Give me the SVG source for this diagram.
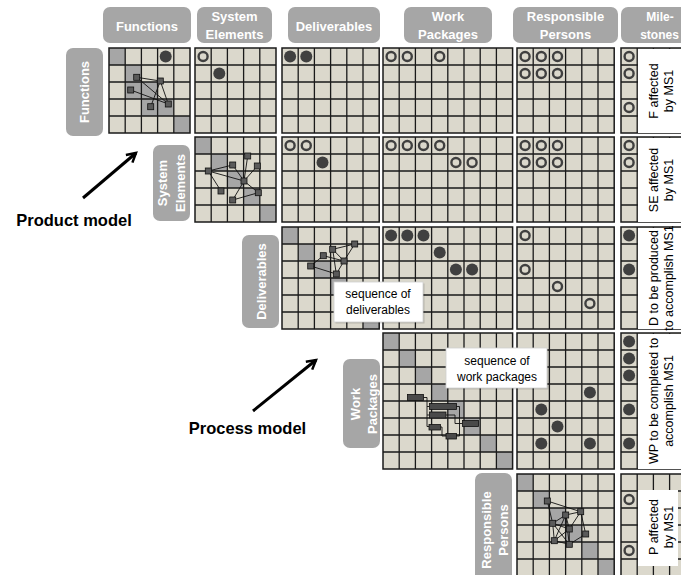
<svg xmlns="http://www.w3.org/2000/svg" width="681" height="575" viewBox="0 0 681 575">
<style>
.c{fill:#dbd8cc}
.g{fill:#a6a6a6}
.l{fill:none;stroke:#1a1a1a;stroke-width:1.3}
.b{fill:none;stroke:#1a1a1a;stroke-width:1.5}
.f{fill:#404040}
.h{fill:none;stroke:#404040;stroke-width:2.4}
.nd{fill:#5a5a5a;stroke:#111;stroke-width:0.8}
.nl{fill:none;stroke:#111;stroke-width:0.9}
.bar{fill:#4a4a4a;stroke:#111;stroke-width:0.8}
.hd{fill:#a6a6a6}
.ht{font-family:"Liberation Sans",Arial,sans-serif;font-weight:bold;font-size:13px;fill:#fff;text-anchor:middle}
.mt{font-family:"Liberation Sans",Arial,sans-serif;font-size:12.5px;fill:#000;text-anchor:middle}
.st{font-family:"Liberation Sans",Arial,sans-serif;font-size:12px;fill:#000;text-anchor:middle}
.lb{font-family:"Liberation Sans",Arial,sans-serif;font-weight:bold;font-size:16.5px;fill:#000;text-anchor:middle}
.wb{fill:#fff}
.arr{fill:none;stroke:#000;stroke-width:3}
</style>
<defs>
<marker id="ah" viewBox="0 0 12 12" refX="10" refY="6" markerWidth="4.5" markerHeight="4.5" orient="auto">
<path d="M2 1.5L10 6L2 10.5" fill="none" stroke="#000" stroke-width="2.2"/>
</marker>
</defs>
<rect x="0" y="0" width="681" height="575" fill="#fff"/>

<!-- Functions row -->
<g id="blk-f-f">
<rect class="c" x="109" y="48" width="81" height="85"/>
<rect class="g" x="109" y="48" width="16.2" height="17"/>
<rect class="g" x="125.2" y="65" width="16.2" height="17"/>
<rect class="g" x="125.2" y="82" width="16.2" height="17"/>
<rect class="g" x="141.4" y="82" width="16.2" height="17"/>
<rect class="g" x="141.4" y="99" width="16.2" height="17"/>
<rect class="g" x="157.6" y="99" width="16.2" height="17"/>
<rect class="g" x="173.8" y="116" width="16.2" height="17"/>
<path class="l" d="M125.2 48V133M141.4 48V133M157.6 48V133M173.8 48V133M109 65H190M109 82H190M109 99H190M109 116H190"/>
<rect class="b" x="109" y="48" width="81" height="85"/>
<path class="nl" d="M136.7 77.3L160.3 81M136.7 77.3L168.3 104M130.7 90L168.3 104M160.3 81L150.7 106.7M160.3 81L168.3 104"/>
<rect class="nd" x="133.7" y="74.3" width="6" height="6"/>
<rect class="nd" x="157.3" y="78" width="6" height="6"/>
<rect class="nd" x="127.7" y="87" width="6" height="6"/>
<rect class="nd" x="147.7" y="103.7" width="6" height="6"/>
<rect class="nd" x="165.3" y="101" width="6" height="6"/>
<circle class="f" cx="165.7" cy="56.5" r="6"/>
</g>
<g id="blk-f-se">
<rect class="c" x="195" y="48" width="81" height="85"/>
<path class="l" d="M211.2 48V133M227.4 48V133M243.6 48V133M259.8 48V133M195 65H276M195 82H276M195 99H276M195 116H276"/>
<rect class="b" x="195" y="48" width="81" height="85"/>
<circle class="h" cx="203.1" cy="56.5" r="4.5"/>
<circle class="f" cx="219.3" cy="73.5" r="6"/>
</g>
<g id="blk-f-d">
<rect class="c" x="282" y="48" width="97.2" height="85"/>
<path class="l" d="M298.2 48V133M314.4 48V133M330.6 48V133M346.8 48V133M363 48V133M282 65H379.2M282 82H379.2M282 99H379.2M282 116H379.2"/>
<rect class="b" x="282" y="48" width="97.2" height="85"/>
<circle class="f" cx="290.1" cy="56.5" r="6"/>
<circle class="f" cx="306.3" cy="56.5" r="6"/>
</g>
<g id="blk-f-wp">
<rect class="c" x="383" y="48" width="129.6" height="85"/>
<path class="l" d="M399.2 48V133M415.4 48V133M431.6 48V133M447.8 48V133M464 48V133M480.2 48V133M496.4 48V133M383 65H512.6M383 82H512.6M383 99H512.6M383 116H512.6"/>
<rect class="b" x="383" y="48" width="129.6" height="85"/>
<circle class="h" cx="391.1" cy="56.5" r="4.5"/>
<circle class="h" cx="407.3" cy="56.5" r="4.5"/>
<circle class="h" cx="439.7" cy="56.5" r="4.5"/>
</g>
<g id="blk-f-rp">
<rect class="c" x="517" y="48" width="97.2" height="85"/>
<path class="l" d="M533.2 48V133M549.4 48V133M565.6 48V133M581.8 48V133M598 48V133M517 65H614.2M517 82H614.2M517 99H614.2M517 116H614.2"/>
<rect class="b" x="517" y="48" width="97.2" height="85"/>
<circle class="h" cx="525.1" cy="56.5" r="4.5"/>
<circle class="h" cx="541.3" cy="56.5" r="4.5"/>
<circle class="h" cx="557.5" cy="56.5" r="4.5"/>
<circle class="h" cx="525.1" cy="73.5" r="4.5"/>
<circle class="h" cx="541.3" cy="73.5" r="4.5"/>
<circle class="h" cx="557.5" cy="73.5" r="4.5"/>
</g>
<g id="blk-f-ms">
<rect class="c" x="621" y="48" width="64.8" height="85"/>
<path class="l" d="M637.2 48V133M653.4 48V133M669.6 48V133M621 65H685.8M621 82H685.8M621 99H685.8M621 116H685.8"/>
<rect class="b" x="621" y="48" width="64.8" height="85"/>
<circle class="h" cx="629.1" cy="56.5" r="4.5"/>
<circle class="h" cx="629.1" cy="73.5" r="4.5"/>
<circle class="h" cx="629.1" cy="107.5" r="4.5"/>
<rect class="wb" x="638" y="49" width="43" height="84"/>
<text class="mt" transform="translate(658,91) rotate(-90)"><tspan x="0" y="0">F affected</tspan><tspan x="0" y="15">by MS1</tspan></text>
</g>

<!-- System Elements row -->
<g id="blk-se-se">
<rect class="c" x="195" y="137" width="81" height="85"/>
<rect class="g" x="195" y="137" width="16.2" height="17"/>
<rect class="g" x="211.2" y="154" width="16.2" height="17"/>
<rect class="g" x="227.4" y="171" width="16.2" height="17"/>
<rect class="g" x="243.6" y="188" width="16.2" height="17"/>
<rect class="g" x="259.8" y="205" width="16.2" height="17"/>
<path class="l" d="M211.2 137V222M227.4 137V222M243.6 137V222M259.8 137V222M195 154H276M195 171H276M195 188H276M195 205H276"/>
<rect class="b" x="195" y="137" width="81" height="85"/>
<path class="nl" d="M208.3 171L232.7 165M208.3 171L244 181M208.3 171L221 191M232.7 165L244 181M247.7 156L244 181M257.3 166L244 181M244 181L258.3 192.7M244 181L232.7 200M258.3 192.7L232.7 200"/>
<rect class="nd" x="205.3" y="168" width="6" height="6"/>
<rect class="nd" x="229.7" y="162" width="6" height="6"/>
<rect class="nd" x="244.7" y="153" width="6" height="6"/>
<rect class="nd" x="254.3" y="163" width="6" height="6"/>
<rect class="nd" x="241" y="178" width="6" height="6"/>
<rect class="nd" x="218" y="188" width="6" height="6"/>
<rect class="nd" x="255.3" y="189.7" width="6" height="6"/>
<rect class="nd" x="229.7" y="197" width="6" height="6"/>
</g>
<g id="blk-se-d">
<rect class="c" x="282" y="137" width="97.2" height="85"/>
<path class="l" d="M298.2 137V222M314.4 137V222M330.6 137V222M346.8 137V222M363 137V222M282 154H379.2M282 171H379.2M282 188H379.2M282 205H379.2"/>
<rect class="b" x="282" y="137" width="97.2" height="85"/>
<circle class="h" cx="290.1" cy="145.5" r="4.5"/>
<circle class="h" cx="306.3" cy="145.5" r="4.5"/>
<circle class="f" cx="322.5" cy="162.5" r="6"/>
</g>
<g id="blk-se-wp">
<rect class="c" x="383" y="137" width="129.6" height="85"/>
<path class="l" d="M399.2 137V222M415.4 137V222M431.6 137V222M447.8 137V222M464 137V222M480.2 137V222M496.4 137V222M383 154H512.6M383 171H512.6M383 188H512.6M383 205H512.6"/>
<rect class="b" x="383" y="137" width="129.6" height="85"/>
<circle class="h" cx="391.1" cy="145.5" r="4.5"/>
<circle class="h" cx="407.3" cy="145.5" r="4.5"/>
<circle class="h" cx="423.5" cy="145.5" r="4.5"/>
<circle class="h" cx="439.7" cy="145.5" r="4.5"/>
<circle class="h" cx="455.9" cy="162.5" r="4.5"/>
<circle class="h" cx="472.1" cy="162.5" r="4.5"/>
</g>
<g id="blk-se-rp">
<rect class="c" x="517" y="137" width="97.2" height="85"/>
<path class="l" d="M533.2 137V222M549.4 137V222M565.6 137V222M581.8 137V222M598 137V222M517 154H614.2M517 171H614.2M517 188H614.2M517 205H614.2"/>
<rect class="b" x="517" y="137" width="97.2" height="85"/>
<circle class="h" cx="525.1" cy="145.5" r="4.5"/>
<circle class="h" cx="541.3" cy="145.5" r="4.5"/>
<circle class="h" cx="557.5" cy="145.5" r="4.5"/>
<circle class="h" cx="525.1" cy="162.5" r="4.5"/>
<circle class="h" cx="541.3" cy="162.5" r="4.5"/>
<circle class="h" cx="557.5" cy="162.5" r="4.5"/>
</g>
<g id="blk-se-ms">
<rect class="c" x="621" y="137" width="64.8" height="85"/>
<path class="l" d="M637.2 137V222M653.4 137V222M669.6 137V222M621 154H685.8M621 171H685.8M621 188H685.8M621 205H685.8"/>
<rect class="b" x="621" y="137" width="64.8" height="85"/>
<circle class="h" cx="629.1" cy="145.5" r="4.5"/>
<circle class="h" cx="629.1" cy="162.5" r="4.5"/>
<rect class="wb" x="638" y="138" width="43" height="84"/>
<text class="mt" transform="translate(658,180) rotate(-90)"><tspan x="0" y="0">SE affected</tspan><tspan x="0" y="15">by MS1</tspan></text>
</g>

<!-- Deliverables row -->
<g id="blk-d-d">
<rect class="c" x="282" y="227" width="97.2" height="102"/>
<rect class="g" x="282" y="227" width="16.2" height="17"/>
<rect class="g" x="298.2" y="244" width="16.2" height="17"/>
<rect class="g" x="314.4" y="261" width="16.2" height="17"/>
<rect class="g" x="330.6" y="278" width="16.2" height="17"/>
<rect class="g" x="346.8" y="295" width="16.2" height="17"/>
<rect class="g" x="363" y="312" width="16.2" height="17"/>
<path class="l" d="M298.2 227V329M314.4 227V329M330.6 227V329M346.8 227V329M363 227V329M282 244H379.2M282 261H379.2M282 278H379.2M282 295H379.2M282 312H379.2"/>
<rect class="b" x="282" y="227" width="97.2" height="102"/>
<path class="nl" d="M332.7 249.3L354.7 244M354.7 244L344 261M332.7 249.3L344 261M323.3 255.7L344 261M310.7 266L323.3 255.7M310.7 266L336.3 274M344 261L336.3 274M332.7 249.3L336.3 274"/>
<rect class="nd" x="320.3" y="252.7" width="6" height="6"/>
<rect class="nd" x="329.7" y="246.3" width="6" height="6"/>
<rect class="nd" x="351.7" y="241" width="6" height="6"/>
<rect class="nd" x="341" y="258" width="6" height="6"/>
<rect class="nd" x="307.7" y="263" width="6" height="6"/>
<rect class="nd" x="333.3" y="271" width="6" height="6"/>
</g>
<g id="blk-d-wp">
<rect class="c" x="383" y="227" width="129.6" height="102"/>
<path class="l" d="M399.2 227V329M415.4 227V329M431.6 227V329M447.8 227V329M464 227V329M480.2 227V329M496.4 227V329M383 244H512.6M383 261H512.6M383 278H512.6M383 295H512.6M383 312H512.6"/>
<rect class="b" x="383" y="227" width="129.6" height="102"/>
<circle class="f" cx="391.1" cy="235.5" r="6"/>
<circle class="f" cx="407.3" cy="235.5" r="6"/>
<circle class="f" cx="423.5" cy="235.5" r="6"/>
<circle class="f" cx="439.7" cy="252.5" r="6"/>
<circle class="f" cx="455.9" cy="269.5" r="6"/>
<circle class="f" cx="472.1" cy="269.5" r="6"/>
</g>
<g id="blk-d-rp">
<rect class="c" x="517" y="227" width="97.2" height="102"/>
<path class="l" d="M533.2 227V329M549.4 227V329M565.6 227V329M581.8 227V329M598 227V329M517 244H614.2M517 261H614.2M517 278H614.2M517 295H614.2M517 312H614.2"/>
<rect class="b" x="517" y="227" width="97.2" height="102"/>
<circle class="h" cx="525.1" cy="235.5" r="4.5"/>
<circle class="h" cx="525.1" cy="269.5" r="4.5"/>
<circle class="h" cx="557.5" cy="286.5" r="4.5"/>
<circle class="h" cx="589.9" cy="303.5" r="4.5"/>
</g>
<g id="blk-d-ms">
<rect class="c" x="621" y="227" width="64.8" height="102"/>
<path class="l" d="M637.2 227V329M653.4 227V329M669.6 227V329M621 244H685.8M621 261H685.8M621 278H685.8M621 295H685.8M621 312H685.8"/>
<rect class="b" x="621" y="227" width="64.8" height="102"/>
<circle class="f" cx="629.1" cy="235.5" r="6"/>
<circle class="f" cx="629.1" cy="269.5" r="6"/>
<rect class="wb" x="638" y="228" width="43" height="101"/>
<text class="mt" transform="translate(658,278) rotate(-90)"><tspan x="0" y="0">D to be produced</tspan><tspan x="0" y="15">to accomplish MS1</tspan></text>
</g>
<g id="seq-deliverables">
<rect x="335.5" y="283.5" width="89" height="40" fill="#000" opacity="0.15"/>
<rect x="334" y="282" width="89" height="40" fill="#fff" stroke="#d0d0d0" stroke-width="0.8"/>
<text class="st" x="378" y="298">sequence of</text>
<text class="st" x="378" y="314">deliverables</text>
</g>

<!-- Work Packages row -->
<g id="blk-wp-wp">
<rect class="c" x="383" y="333" width="129.6" height="136"/>
<rect class="g" x="383" y="333" width="16.2" height="17"/>
<rect class="g" x="399.2" y="350" width="16.2" height="17"/>
<rect class="g" x="415.4" y="367" width="16.2" height="17"/>
<rect class="g" x="431.6" y="384" width="16.2" height="17"/>
<rect class="g" x="447.8" y="401" width="16.2" height="17"/>
<rect class="g" x="464" y="418" width="16.2" height="17"/>
<rect class="g" x="480.2" y="435" width="16.2" height="17"/>
<rect class="g" x="496.4" y="452" width="16.2" height="17"/>
<path class="l" d="M399.2 333V469M415.4 333V469M431.6 333V469M447.8 333V469M464 333V469M480.2 333V469M496.4 333V469M383 350H512.6M383 367H512.6M383 384H512.6M383 401H512.6M383 418H512.6M383 435H512.6M383 452H512.6"/>
<rect class="b" x="383" y="333" width="129.6" height="136"/>
<path class="nl" d="M423.5 397.5H427V426.5H429M427 406.5H429.5M427 415H429.5M456.5 406.5H459.5V436H456.5M446 415H455V423.5H462.5M440.5 427H442V436H446"/>
<rect class="bar" x="407.5" y="394.5" width="16" height="6"/>
<rect class="bar" x="429.5" y="403.5" width="27" height="6"/>
<rect class="bar" x="429.5" y="412" width="16.5" height="6"/>
<rect class="bar" x="429" y="424.5" width="11.5" height="5.5"/>
<rect class="bar" x="446" y="433.5" width="10.5" height="5.5"/>
<rect class="bar" x="462.5" y="420.5" width="16" height="6"/>
</g>
<g id="blk-wp-rp">
<rect class="c" x="517" y="333" width="97.2" height="136"/>
<path class="l" d="M533.2 333V469M549.4 333V469M565.6 333V469M581.8 333V469M598 333V469M517 350H614.2M517 367H614.2M517 384H614.2M517 401H614.2M517 418H614.2M517 435H614.2M517 452H614.2"/>
<rect class="b" x="517" y="333" width="97.2" height="136"/>
<circle class="f" cx="589.9" cy="392.5" r="6"/>
<circle class="f" cx="541.3" cy="409.5" r="6"/>
<circle class="f" cx="557.5" cy="426.5" r="6"/>
<circle class="f" cx="541.3" cy="443.5" r="6"/>
<circle class="f" cx="589.9" cy="443.5" r="6"/>
</g>
<g id="blk-wp-ms">
<rect class="c" x="621" y="333" width="64.8" height="136"/>
<path class="l" d="M637.2 333V469M653.4 333V469M669.6 333V469M621 350H685.8M621 367H685.8M621 384H685.8M621 401H685.8M621 418H685.8M621 435H685.8M621 452H685.8"/>
<rect class="b" x="621" y="333" width="64.8" height="136"/>
<circle class="f" cx="629.1" cy="341.5" r="6"/>
<circle class="f" cx="629.1" cy="358.5" r="6"/>
<circle class="f" cx="629.1" cy="375.5" r="6"/>
<circle class="f" cx="629.1" cy="409.5" r="6"/>
<circle class="f" cx="629.1" cy="443.5" r="6"/>
<rect class="wb" x="638" y="334" width="43" height="135"/>
<text class="mt" transform="translate(658,401) rotate(-90)"><tspan x="0" y="0">WP to be completed to</tspan><tspan x="0" y="15">accomplish MS1</tspan></text>
</g>
<g id="seq-work-packages">
<rect x="447.5" y="349.5" width="101" height="40" fill="#000" opacity="0.15"/>
<rect x="446" y="348" width="101" height="40" fill="#fff" stroke="#d0d0d0" stroke-width="0.8"/>
<text class="st" x="497" y="365">sequence of</text>
<text class="st" x="497" y="381">work packages</text>
</g>

<!-- Responsible Persons row -->
<g id="blk-rp-rp">
<rect class="c" x="517" y="474" width="97.2" height="102"/>
<rect class="g" x="517" y="474" width="16.2" height="17"/>
<rect class="g" x="533.2" y="491" width="16.2" height="17"/>
<rect class="g" x="549.4" y="508" width="16.2" height="17"/>
<rect class="g" x="565.6" y="525" width="16.2" height="17"/>
<rect class="g" x="581.8" y="542" width="16.2" height="17"/>
<rect class="g" x="598" y="559" width="16.2" height="17"/>
<path class="l" d="M533.2 474V576M549.4 474V576M565.6 474V576M581.8 474V576M598 474V576M517 491H614.2M517 508H614.2M517 525H614.2M517 542H614.2M517 559H614.2"/>
<rect class="b" x="517" y="474" width="97.2" height="102"/>
<path class="nl" d="M547.3 501L580.7 511.7M547.3 501L552.7 523.3M565.7 515L580.7 511.7M565.7 515L552.7 523.3M565.7 515L569.3 529M565.7 515L554.3 540.7M565.7 515L569.3 544.3M580.7 511.7L569.3 529M580.7 511.7L585.7 534M552.7 523.3L569.3 529M552.7 523.3L554.3 540.7M569.3 529L554.3 540.7M569.3 529L569.3 544.3M585.7 534L569.3 544.3M554.3 540.7L569.3 544.3M552.7 523.3L569.3 544.3"/>
<rect class="nd" x="544.3" y="498" width="6" height="6"/>
<rect class="nd" x="562.7" y="512" width="6" height="6"/>
<rect class="nd" x="577.7" y="508.7" width="6" height="6"/>
<rect class="nd" x="549.7" y="520.3" width="6" height="6"/>
<rect class="nd" x="566.3" y="526" width="6" height="6"/>
<rect class="nd" x="582.7" y="531" width="6" height="6"/>
<rect class="nd" x="551.3" y="537.7" width="6" height="6"/>
<rect class="nd" x="566.3" y="541.3" width="6" height="6"/>
</g>
<g id="blk-rp-ms">
<rect class="c" x="621" y="474" width="64.8" height="102"/>
<path class="l" d="M637.2 474V576M653.4 474V576M669.6 474V576M621 491H685.8M621 508H685.8M621 525H685.8M621 542H685.8M621 559H685.8"/>
<rect class="b" x="621" y="474" width="64.8" height="102"/>
<circle class="h" cx="629.1" cy="499.5" r="4.5"/>
<circle class="h" cx="629.1" cy="550.5" r="4.5"/>
<rect class="wb" x="638" y="490" width="40" height="76"/>
<text class="mt" transform="translate(658,527) rotate(-90)"><tspan x="0" y="0">P affected</tspan><tspan x="0" y="15">by MS1</tspan></text>
</g>

<!-- Column headers -->
<g id="hdr-col-functions"><rect class="hd" x="103" y="7" width="88" height="36" rx="7"/><text class="ht" x="147" y="31">Functions</text></g>
<g id="hdr-col-system-elements"><rect class="hd" x="197" y="7" width="75" height="36" rx="7"/><text class="ht" x="234.5" y="21">System</text><text class="ht" x="234.5" y="39">Elements</text></g>
<g id="hdr-col-deliverables"><rect class="hd" x="288" y="7" width="92" height="36" rx="7"/><text class="ht" x="334" y="31">Deliverables</text></g>
<g id="hdr-col-work-packages"><rect class="hd" x="404" y="7" width="88" height="36" rx="7"/><text class="ht" x="448" y="21">Work</text><text class="ht" x="448" y="39">Packages</text></g>
<g id="hdr-col-responsible-persons"><rect class="hd" x="513" y="7" width="105" height="36" rx="7"/><text class="ht" x="565.5" y="21">Responsible</text><text class="ht" x="565.5" y="39">Persons</text></g>
<g id="hdr-col-milestones"><rect class="hd" x="621" y="7" width="86" height="36" rx="7"/><text class="ht" x="660" y="21" style="font-size:12px">Mile-</text><text class="ht" x="659.5" y="39" style="font-size:12px">stones</text></g>

<!-- Row headers -->
<g id="hdr-row-functions"><rect class="hd" x="66" y="48" width="37" height="88" rx="7"/><text class="ht" transform="translate(89,92) rotate(-90)">Functions</text></g>
<g id="hdr-row-system-elements"><rect class="hd" x="153" y="145" width="37" height="76" rx="7"/><text class="ht" transform="translate(167,183) rotate(-90)"><tspan x="0" y="0">System</tspan><tspan x="0" y="18">Elements</tspan></text></g>
<g id="hdr-row-deliverables"><rect class="hd" x="242" y="235" width="37" height="93" rx="7"/><text class="ht" transform="translate(266,281.5) rotate(-90)">Deliverables</text></g>
<g id="hdr-row-work-packages"><rect class="hd" x="343" y="359" width="37" height="89" rx="7"/><text class="ht" transform="translate(359.5,404) rotate(-90)"><tspan x="0" y="0">Work</tspan><tspan x="0" y="17">Packages</tspan></text></g>
<g id="hdr-row-responsible-persons"><rect class="hd" x="475" y="473" width="37" height="112" rx="7"/><text class="ht" transform="translate(491,530) rotate(-90)"><tspan x="0" y="0">Responsible</tspan><tspan x="0" y="17">Persons</tspan></text></g>

<!-- Labels -->
<g id="label-product-model"><text class="lb" x="74" y="226">Product model</text></g>
<g id="label-process-model"><text class="lb" x="247.5" y="434">Process model</text></g>

<g id="connectors">
<line class="arr" x1="83" y1="198" x2="136" y2="153" marker-end="url(#ah)"/>
<line class="arr" x1="253" y1="411" x2="316" y2="360" marker-end="url(#ah)"/>
</g>
</svg>
